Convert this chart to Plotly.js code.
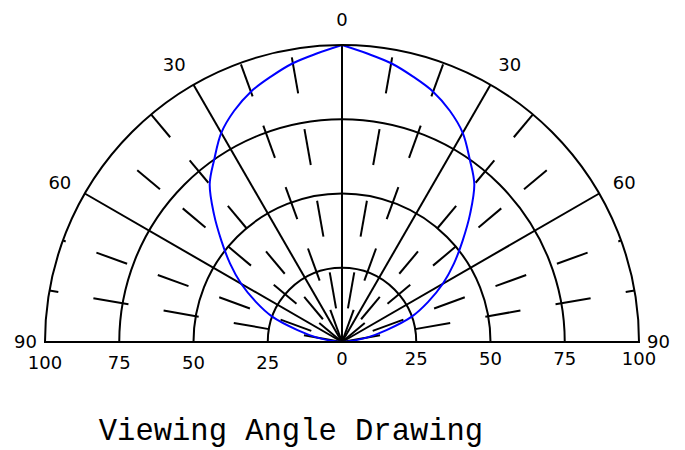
<!DOCTYPE html>
<html>
<head>
<meta charset="utf-8">
<script src="https://cdn.plot.ly/plotly-3.0.1.min.js"></script>
<style>
html,body{margin:0;padding:0;background:#ffffff;}
#chart{width:685px;height:450px;}
</style>
</head>
<body>
<div id="chart"></div>
<script>
// ---------------- data ----------------
const angles = [-90,-85,-80,-75,-70,-65,-60,-55,-50,-45,-40,-35,-30,-25,-20,-15,-10,-5,
                0,5,10,15,20,25,30,35,40,45,50,55,60,65,70,75,80,85,90];
const intensity = [0,2.5,8.5,15.5,25,32,39.2,46,53,61,69.3,75,81.3,85.9,89.7,92.5,95.3,97.5,
                   100,97.5,95.3,92.5,89.7,85.9,81.3,75,69.3,61,53,46,39.2,32,25,15.5,8.5,2.5,0];
const angleTicks = [-60,-30,0,30,60];
const angleTickLabels = ['60','30','0','30','60'];
const edgeTicks = [-90,90];
const edgeTickLabels = ['90','90'];
const radialTicksRight = [0,25,50,75,100];
const radialTicksLeft = [25,50,75,100];
const chartTitle = 'Viewing Angle Drawing';

// ---------------- decoration (dashed minor spokes) ----------------
const minorSpokes = [
  {a:10, start:11.5, period:24.5, len:12.3},
  {a:20, start:0,    period:22,   len:11.5},
  {a:40, start:10,   period:20,   len:9.8},
  {a:50, start:0,    period:20,   len:10},
  {a:70, start:11,   period:22,   len:11},
  {a:80, start:1,    period:24,   len:12}
];
const dashTheta = [], dashR = [];
minorSpokes.forEach(function(s){
  [s.a, -s.a].forEach(function(th){
    for (let r0 = s.start; r0 < 100; r0 += s.period) {
      dashTheta.push(th, th, null);
      dashR.push(r0, Math.min(r0 + s.len, 100), null);
    }
  });
});

// split the curve at its peak so each half is smoothed separately (peak stays pointed)
const peak = angles.indexOf(0);
const leftTheta = angles.slice(0, peak + 1), leftR = intensity.slice(0, peak + 1);
const rightTheta = angles.slice(peak), rightR = intensity.slice(peak);

const tickFont = {family:'DejaVu Sans, Verdana, sans-serif', size:18, color:'#000'};
const clear = 'rgba(0,0,0,0)';

const traces = [
  {type:'scatterpolar', subplot:'polar', mode:'lines', theta:dashTheta, r:dashR,
   line:{color:'#000', width:2}, connectgaps:false, hoverinfo:'skip'},
  {type:'scatterpolar', subplot:'polar', mode:'lines', theta:leftTheta, r:leftR,
   line:{color:'#0000ff', width:2, shape:'spline', smoothing:1}, hoverinfo:'skip'},
  {type:'scatterpolar', subplot:'polar', mode:'lines', theta:rightTheta, r:rightR,
   line:{color:'#0000ff', width:2, shape:'spline', smoothing:1}, hoverinfo:'skip'},
  {type:'scatterpolar', subplot:'polar2', mode:'none', theta:[0], r:[0], hoverinfo:'skip'}
];

const layout = {
  width:685, height:450,
  margin:{l:45, r:46, t:45, b:108, pad:0},
  paper_bgcolor:'#ffffff',
  showlegend:false,
  title:{text:chartTitle, font:{family:'Liberation Mono, Courier New, monospace', size:30.5, color:'#000'},
         x:291/685, xanchor:'center', xref:'container', y:0.045, yanchor:'middle', yref:'container'},
  polar:{
    domain:{x:[0,1], y:[0,1]},
    sector:[0,180],
    bgcolor:clear,
    angularaxis:{rotation:90, direction:'clockwise', tickmode:'array',
      tickvals:angleTicks, ticktext:angleTickLabels,
      showline:true, linecolor:'#000', linewidth:2,
      showgrid:true, gridcolor:'#000', gridwidth:2,
      ticks:'outside', ticklen:11, tickcolor:clear, tickfont:tickFont},
    radialaxis:{range:[0,100], angle:0, side:'clockwise', tickmode:'array',
      tickvals:radialTicksRight, ticktext:radialTicksRight.map(String),
      showline:true, linecolor:'#000', linewidth:2,
      showgrid:true, gridcolor:'#000', gridwidth:2,
      ticks:'outside', ticklen:0.5, tickcolor:clear, tickfont:tickFont}
  },
  polar2:{
    domain:{x:[0,1], y:[0,1]},
    sector:[0,180],
    bgcolor:clear,
    angularaxis:{rotation:90, direction:'clockwise', tickmode:'array',
      tickvals:edgeTicks, ticktext:edgeTickLabels,
      showline:false, showgrid:false,
      ticks:'outside', ticklen:4, tickcolor:clear, tickfont:tickFont},
    radialaxis:{range:[0,100], angle:180, side:'counterclockwise', tickmode:'array',
      tickvals:radialTicksLeft, ticktext:radialTicksLeft.map(String), tickangle:180,
      showline:true, linecolor:'#000', linewidth:2,
      showgrid:false, ticks:'outside', ticklen:0.5, tickcolor:clear, tickfont:tickFont}
  }
};

Plotly.newPlot('chart', traces, layout, {staticPlot:true, displayModeBar:false});
</script>
</body>
</html>
